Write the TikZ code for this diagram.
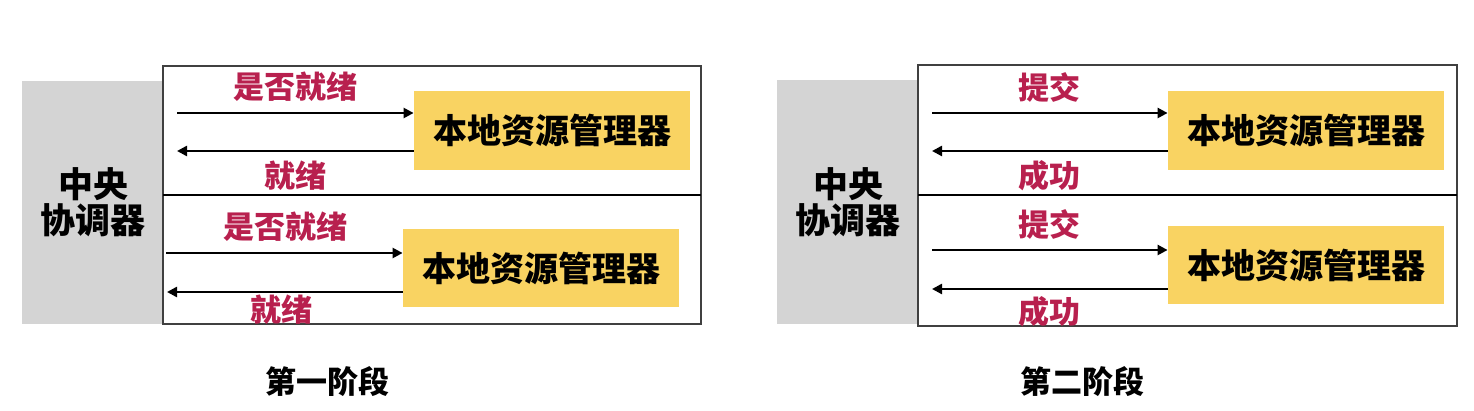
\documentclass[tikz,border=0pt]{standalone}
\usepackage{fontspec}
\newfontfamily\cjk{Noto Sans CJK SC Black}
\usetikzlibrary{arrows.meta}
\definecolor{lblred}{HTML}{B8204E}
\definecolor{rmyellow}{HTML}{F9D362}
\definecolor{coordgray}{HTML}{D4D4D4}
\tikzset{
  coordbox/.style={fill=coordgray, draw=none, inner sep=0pt},
  rmbox/.style={fill=rmyellow, draw=none, inner sep=0pt, font=\cjk\fontsize{17}{20}\selectfont},
  lbl/.style={text=lblred, font=\cjk\fontsize{15.5}{18}\selectfont, inner sep=0pt},
  msg/.style={line width=1.2pt, -{Triangle[length=5pt,width=5pt]}},
  title/.style={font=\cjk\fontsize{15.5}{18}\selectfont, inner sep=0pt},
  ctext/.style={font=\cjk\fontsize{17.5}{20}\selectfont, align=center, inner sep=0pt}
}
\begin{document}
\begin{tikzpicture}[x=0.5pt,y=-0.5pt]
\useasboundingbox (0,0) rectangle (1474,411);
% ---------- left panel ----------
\fill[coordgray] (22,81) rectangle (163,324);
\node[ctext] (lc) at (93,202) {中央\\[-2pt]协调器};
\draw[line width=0.6pt, draw=black!75] (163,66) rectangle (701,324);
\draw[line width=1pt] (163,195) -- (701,195);
\node[rmbox, minimum width=138pt, minimum height=39.5pt] (lr1) at (552,130.5) {本地资源管理器};
\node[rmbox, minimum width=138pt, minimum height=39pt] (lr2) at (541,268) {本地资源管理器};
\coordinate (la1) at (177,113);
\coordinate (lb1) at (177,151);
\coordinate (la2) at (166,253);
\coordinate (lb2) at (167,292);
\draw[msg] (la1) -- (la1 -| lr1.west);
\draw[msg] (lb1 -| lr1.west) -- (lb1);
\draw[msg] (la2) -- (la2 -| lr2.west);
\draw[msg] (lb2 -| lr2.west) -- (lb2);
\node[lbl] (lq1) at (295,87) {是否就绪};
\node[lbl] (lr1t) at (295,176) {就绪};
\node[lbl] (lq2) at (285,227) {是否就绪};
\node[lbl] (lr2t) at (281,310) {就绪};
\node[title] (lt) at (327,382) {第一阶段};
% ---------- right panel ----------
\fill[coordgray] (777,80) rectangle (918,324);
\node[ctext] (rc) at (848,202) {中央\\[-2pt]协调器};
\draw[line width=0.6pt, draw=black!75] (918,65) rectangle (1457,326);
\draw[line width=1pt] (918,195) -- (1457,195);
\node[rmbox, minimum width=138pt, minimum height=39.5pt] (rr1) at (1306,130.5) {本地资源管理器};
\node[rmbox, minimum width=138pt, minimum height=39pt] (rr2) at (1306,265) {本地资源管理器};
\coordinate (ra1) at (932,113);
\coordinate (rb1) at (932,151);
\coordinate (ra2) at (932,250);
\coordinate (rb2) at (932,289);
\draw[msg] (ra1) -- (ra1 -| rr1.west);
\draw[msg] (rb1 -| rr1.west) -- (rb1);
\draw[msg] (ra2) -- (ra2 -| rr2.west);
\draw[msg] (rb2 -| rr2.west) -- (rb2);
\node[lbl] (rq1) at (1049,87) {提交};
\node[lbl] (rs1) at (1049,176) {成功};
\node[lbl] (rq2) at (1049,224) {提交};
\node[lbl] (rs2) at (1049,312) {成功};
\node[title] (rt) at (1082,382) {第二阶段};
\end{tikzpicture}
\end{document}
